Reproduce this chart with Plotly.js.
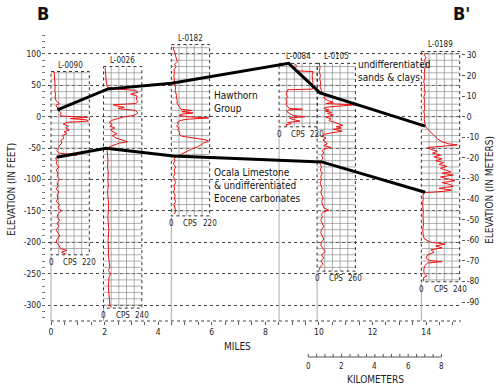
<!DOCTYPE html>
<html><head><meta charset="utf-8">
<script src="https://cdn.plot.ly/plotly-3.0.1.min.js"></script>
<style>body{margin:0;background:#fff}#chart{width:498px;height:387px}</style>
</head><body><div id="chart"></div>
<script>
// ---------------- data ----------------
const wellNames   = ['L-0090','L-0026','L-0182','L-0084','L-0105','L-0189'];
const wellMiles   = [0.0, 1.96, 4.49, 8.51, 9.93, 13.82];
const wellTopFt   = [72, 80, 115, 85, 85, 104];
const wellBotFt   = [-220, -305, -158, -16, -246, -263];
const cpsMax      = [220, 240, 220, 220, 260, 240];

const elev0090 = [72,66,60,54,48,42,36,30,25,21,18,15,12,9,6,3,1,-1,-3,-5,-7,-9,-12,-15,-18,-21,-24,-27,-30,-34,-38,-42,-46,-50,-54,-58,-61,-63,-66,-70,-75,-80,-85,-90,-95,-100,-105,-110,-115,-120,-125,-130,-135,-140,-145,-150,-155,-160,-165,-170,-175,-180,-185,-190,-195,-200,-205,-210,-213,-216,-219];
const cps0090  = [18,20,22,20,24,22,26,24,30,48,28,35,55,45,60,50,65,210,110,205,215,90,70,100,85,105,75,90,65,75,55,62,48,42,32,45,150,60,25,35,30,45,30,40,35,50,35,40,30,45,35,40,30,50,40,60,40,35,50,35,45,30,40,50,35,30,45,55,90,60,85];

const elev0026 = [78,70,62,54,47,44,42,39,36,33,28,24,21,19,17,15,13,10,6,2,0,-3,-6,-9,-12,-15,-18,-21,-24,-27,-30,-33,-36,-40,-42,-45,-48,-52,-60,-70,-80,-90,-100,-110,-120,-130,-140,-150,-160,-170,-180,-190,-200,-210,-220,-230,-240,-245,-250,-255,-260,-270,-280,-290,-300,-303];
const cps0026  = [10,12,15,18,25,90,205,215,170,210,205,215,200,60,85,130,90,200,215,190,130,80,50,35,55,40,70,45,60,85,55,70,110,150,100,60,35,22,25,28,25,30,27,30,25,28,32,30,27,30,33,30,28,32,30,35,40,30,45,35,32,30,33,35,40,45];

const elev0182 = [112,108,104,100,96,92,88,84,80,75,70,65,60,55,50,46,42,38,34,30,26,22,18,15,12,10,8,6,4,2,0,-2,-4,-6,-9,-12,-15,-18,-21,-25,-28,-31,-34,-37,-39,-42,-45,-48,-51,-54,-57,-60,-63,-66,-70,-75,-80,-85,-90,-95,-100,-105,-110,-115,-120,-125,-130,-135,-140,-145,-150,-155];
const cps0182  = [15,12,18,20,25,30,35,18,28,15,18,14,18,16,20,25,22,28,30,28,35,32,40,50,55,120,60,125,55,45,100,214,90,50,35,40,30,45,35,50,45,60,120,200,214,185,170,150,120,95,70,55,35,15,20,12,25,15,22,12,18,25,15,20,12,22,18,25,15,20,25,18];

const elev0084 = [84,80,76,73,72,66,60,54,48,44,43,40,36,32,28,24,20,16,13,12,11,8,5,2,0,-2,-4,-7,-9,-11,-13,-15];
const cps0084  = [95,100,90,105,195,190,192,195,190,192,50,45,40,50,38,45,40,50,60,135,55,45,65,80,150,60,75,120,50,70,40,45];

const elev0105 = [84,78,72,66,60,54,48,42,38,34,30,26,23,21,19,17,15,13,11,9,7,5,3,1,-1,-3,-6,-9,-12,-14,-16,-18,-20,-23,-26,-28,-31,-34,-37,-40,-43,-46,-49,-51,-54,-58,-62,-66,-70,-75,-80,-85,-90,-95,-100,-105,-110,-115,-120,-125,-130,-135,-140,-145,-149,-152,-156,-160,-165,-170,-175,-180,-185,-190,-195,-200,-205,-210,-215,-220,-225,-230,-235,-240,-244];
const cps0105  = [15,20,15,22,18,25,20,28,35,60,45,70,110,60,255,150,60,45,80,55,100,70,110,85,60,95,80,120,150,175,130,165,110,170,90,50,35,60,40,55,70,45,95,55,35,45,30,40,28,20,30,22,35,25,30,20,28,35,25,30,40,30,35,45,80,40,30,35,25,35,45,30,25,35,45,30,25,40,55,30,45,25,40,20,15];

const elev0189 = [102,98,94,90,86,82,78,74,68,62,56,50,44,38,32,26,20,14,8,2,-4,-10,-15,-20,-25,-30,-35,-40,-43,-45,-47,-49,-52,-55,-58,-61,-64,-67,-70,-73,-76,-79,-82,-85,-88,-90,-93,-96,-99,-102,-105,-108,-111,-114,-117,-119,-121,-125,-130,-140,-150,-160,-170,-180,-190,-195,-200,-203,-206,-209,-212,-216,-220,-225,-229,-231,-233,-238,-245,-250,-254,-256,-262];
const cps0189  = [25,20,30,18,25,35,22,20,18,22,15,20,18,24,16,20,18,22,16,20,18,22,25,40,60,80,100,130,170,225,120,40,60,100,70,120,80,130,90,140,110,160,120,150,185,130,200,120,160,210,130,180,200,110,190,140,15,10,12,8,12,10,14,9,12,20,60,150,90,130,60,80,40,30,50,130,40,20,15,18,35,15,12];

const hawthornTopMiles = [0.24, 2.10, 4.50, 8.87, 10.04, 13.96];
const hawthornTopFt    = [11, 44, 53.5, 85, 38, -15];
const ocalaTopMiles    = [0.21, 2.05, 4.57, 10.10, 13.96];
const ocalaTopFt       = [-64.6, -50.3, -62.5, -72, -120.4];

const mileTicks  = [0,2,4,6,8,10,12,14];
const feetTicks  = [100,50,0,-50,-100,-150,-200,-250,-300];
const meterTicks = [30,20,10,0,-10,-20,-30,-40,-50,-60,-70,-80,-90];
const kmTicks    = [0,2,4,6,8];

// ---------------- setup ----------------
const FONT = '"DejaVu Sans Condensed", "Liberation Sans Narrow", sans-serif';
const BOX_W = 1.43;                 // miles, width of a log panel
const X_RANGE = [-0.336, 15.30];
const Y_RANGE = [-325.5, 138.2];
const FT_PER_M = 3.28084;
const MI_PER_KM = 1/1.609344;
const KM_START = 9.6;               // miles where the km scale starts
const PL=42, PR=461, PT=30, PB=321; // plot box in pixels
const px = X => (X-PL)/(PR-PL);
const py = Y => (PB-Y)/(PB-PT);

const logsE = [elev0090, elev0026, elev0182, elev0084, elev0105, elev0189];
const logsC = [cps0090, cps0026, cps0182, cps0084, cps0105, cps0189];

const traces = [];
wellNames.forEach((n,i)=>{
  const x0 = wellMiles[i], x1 = x0 + BOX_W, top = wellTopFt[i], bot = wellBotFt[i];
  const gx=[], gy=[];
  for (let k=1;k<5;k++){ const xx=x0+k*BOX_W/5; gx.push(xx,xx,null); gy.push(bot,top,null); }
  for (let v=Math.ceil(bot/10)*10; v<top; v+=10){ if (v<=bot) continue; gx.push(x0,x1,null); gy.push(v,v,null); }
  traces.push({x:gx,y:gy,mode:'lines',line:{color:'#8c8c8c',width:0.7},hoverinfo:'skip'});
  traces.push({x:[x0,x1,x1,x0,x0],y:[top,top,bot,bot,top],mode:'lines',line:{color:'#333',width:1,dash:'dot'},hoverinfo:'skip'});
  traces.push({x:[x0,x0],y:[bot,Y_RANGE[0]],mode:'lines',line:{color:'#aaa',width:1},hoverinfo:'skip'});
});
wellNames.forEach((n,i)=>{
  traces.push({x:logsC[i].map(c=>wellMiles[i]+c/cpsMax[i]*BOX_W), y:logsE[i], mode:'lines',
    line:{color:'#f01010',width:1}, hoverinfo:'skip'});
});
traces.push({x:hawthornTopMiles,y:hawthornTopFt,mode:'lines',line:{color:'#000',width:3},hoverinfo:'skip'});
traces.push({x:ocalaTopMiles,y:ocalaTopFt,mode:'lines',line:{color:'#000',width:3},hoverinfo:'skip'});
traces.push({x:[0],y:[0],yaxis:'y2',mode:'markers',marker:{opacity:0},hoverinfo:'skip'});

const ann = [];
const A = (o)=>ann.push(Object.assign({showarrow:false,xanchor:'center',yanchor:'middle',font:{family:FONT,size:8,color:'#222'}},o));
wellNames.forEach((n,i)=>{
  const x0=wellMiles[i], x1=x0+BOX_W;
  A({x:x0+BOX_W/2,y:wellTopFt[i],xref:'x',yref:'y',text:n,yanchor:'bottom',yshift:0});
  A({x:x0,y:wellBotFt[i],xref:'x',yref:'y',text:'0',yanchor:'top',yshift:-1});
  A({x:x0+BOX_W/2,y:wellBotFt[i],xref:'x',yref:'y',text:'CPS',yanchor:'top',yshift:-1});
  A({x:x1,y:wellBotFt[i],xref:'x',yref:'y',text:String(cpsMax[i]),yanchor:'top',yshift:-1});
});
const BF = {family:'"DejaVu Sans Condensed", sans-serif',size:18,color:'#111',weight:'bold'};
A({x:px(43),y:py(14),xref:'paper',yref:'paper',text:'<b>B</b>',font:BF});
A({x:px(461),y:py(14),xref:'paper',yref:'paper',text:"<b>B'</b>",font:BF});
A({x:px(11),y:py(190),xref:'paper',yref:'paper',text:'ELEVATION (IN FEET)',textangle:-90,font:{family:FONT,size:10,color:'#222'}});
A({x:px(489),y:py(190),xref:'paper',yref:'paper',text:'ELEVATION (IN METERS)',textangle:-90,font:{family:FONT,size:10,color:'#222'}});
A({x:px(237),y:py(346),xref:'paper',yref:'paper',text:'MILES',font:{family:FONT,size:10,color:'#222'}});
A({x:px(375),y:py(379),xref:'paper',yref:'paper',text:'KILOMETERS',font:{family:FONT,size:10,color:'#222'}});
const LF = {family:FONT,size:10,color:'#111'};
A({x:px(212),y:py(102),xref:'paper',yref:'paper',xanchor:'left',align:'left',text:'Hawthorn<br>Group',font:LF});
A({x:px(356),y:py(71),xref:'paper',yref:'paper',xanchor:'left',align:'left',text:'undifferentiated<br>sands &amp; clays',font:LF});
A({x:px(212),y:py(185),xref:'paper',yref:'paper',xanchor:'left',align:'left',text:'Ocala Limestone<br>&amp; undifferentiated<br>Eocene carbonates',font:LF});

const shapes = [];
shapes.push({type:'line',xref:'x',yref:'paper',x0:0,x1:X_RANGE[1],y0:0,y1:0,line:{color:'#444',width:1,dash:'dot'}});
const kmY = py(357);
const kmEnd = KM_START + 8*MI_PER_KM;
shapes.push({type:'line',xref:'x',yref:'paper',x0:KM_START,x1:kmEnd,y0:kmY,y1:kmY,line:{color:'#555',width:1}});
for (let k=0;k<=16;k++){
  const xx = KM_START + k*0.5*MI_PER_KM;
  shapes.push({type:'line',xref:'x',yref:'paper',x0:xx,x1:xx,y0:kmY,y1:kmY+3/(PB-PT),line:{color:'#555',width:1}});
}
kmTicks.forEach(k=>A({x:KM_START+k*MI_PER_KM,y:py(367),xref:'x',yref:'paper',text:String(k)}));

const TF = {family:FONT,size:8.5,color:'#222'};
const layout = {
  width:498, height:387,
  margin:{l:PL, r:498-PR, t:PT, b:387-PB, pad:0},
  paper_bgcolor:'#fff', plot_bgcolor:'#fff', showlegend:false,
  font:{family:FONT,size:9,color:'#222'},
  xaxis:{range:X_RANGE, tickvals:mileTicks, ticktext:mileTicks.map(String), ticks:'outside', ticklen:3, tickcolor:'#555',
    minor:{dtick:0.5, tick0:0, ticks:'outside', ticklen:3, tickcolor:'#555'},
    showgrid:false, zeroline:false, showline:false, tickfont:TF},
  yaxis:{range:Y_RANGE, tickvals:feetTicks, ticktext:feetTicks.map(String), ticks:'inside', ticklen:3, tickcolor:'#666',
    minor:{dtick:10, tick0:0, ticks:'inside', ticklen:3, tickcolor:'#777', showgrid:false},
    showgrid:true, gridcolor:'#444', gridwidth:1, griddash:'dot', zeroline:false, showline:false, tickfont:TF},
  yaxis2:{range:[Y_RANGE[0]/FT_PER_M, Y_RANGE[1]/FT_PER_M], overlaying:'y', side:'right', anchor:'x',
    tickvals:meterTicks, ticktext:meterTicks.map(String), ticks:'outside', ticklen:3, tickcolor:'#555',
    showgrid:false, zeroline:false, showline:false, tickfont:TF},
  annotations:ann, shapes:shapes
};
Plotly.newPlot('chart', traces, layout, {displayModeBar:false, staticPlot:true});
</script>
</body></html>
